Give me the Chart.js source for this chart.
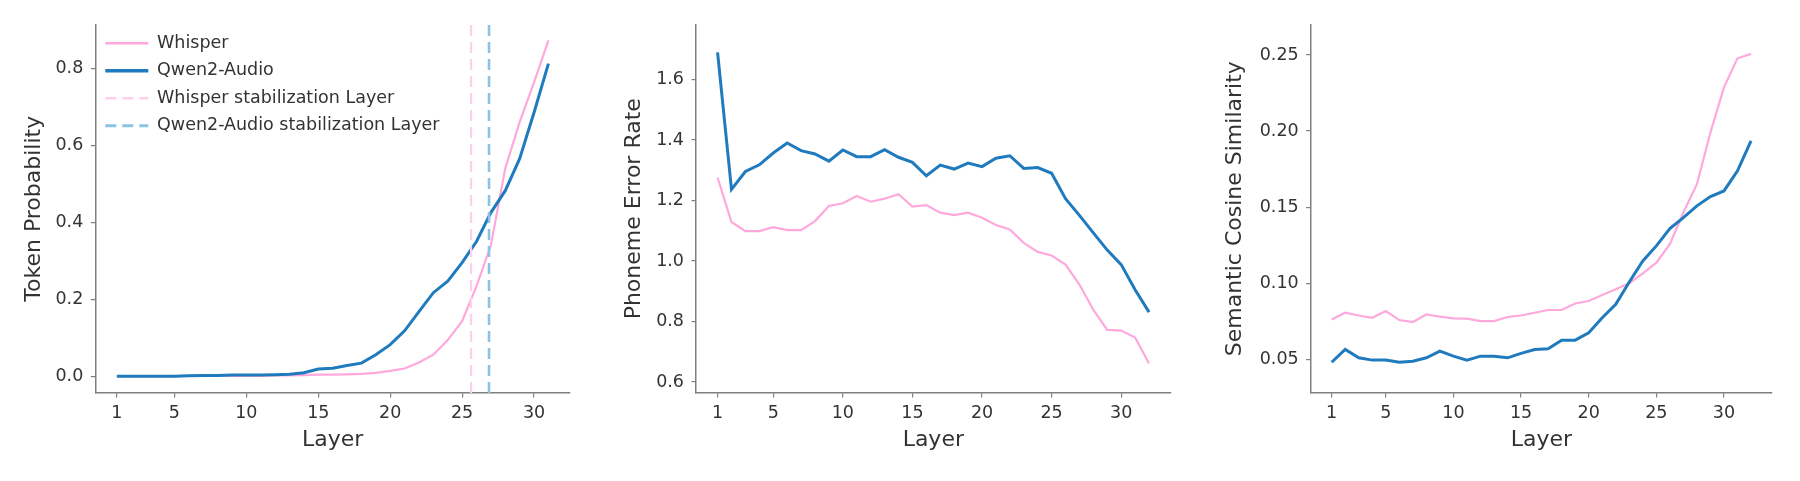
<!DOCTYPE html>
<html>
<head>
<meta charset="utf-8">
<title>Layer-wise token probability, PER and similarity</title>
<script src="https://cdn.jsdelivr.net/npm/chart.js@4.4.1/dist/chart.umd.min.js"></script>
<style>
    html, body { margin: 0; padding: 0; background: #ffffff; }
    #wrap { position: relative; width: 1800px; height: 481px; }
    canvas { position: absolute; top: 0; width: 600px; height: 481px; }
</style>
</head>
<body>
<div id="wrap">
    <canvas id="probChart" width="600" height="481" style="left:0px"></canvas>
    <canvas id="perChart" width="600" height="481" style="left:600px"></canvas>
    <canvas id="simChart" width="600" height="481" style="left:1200px"></canvas>
</div>
<script>
// Layers (panel 1 stops at 31, the others at 32)
const layers31 = [1, 2, 3, 4, 5, 6, 7, 8, 9, 10, 11, 12, 13, 14, 15, 16, 17, 18, 19, 20, 21, 22, 23, 24, 25, 26, 27, 28, 29, 30, 31];
const layers32 = [1, 2, 3, 4, 5, 6, 7, 8, 9, 10, 11, 12, 13, 14, 15, 16, 17, 18, 19, 20, 21, 22, 23, 24, 25, 26, 27, 28, 29, 30, 31, 32];
const layerTicks = [1, 5, 10, 15, 20, 25, 30];

// Token probability
const whisperProb = [0.000, 0.000, 0.000, 0.000, 0.000, 0.001, 0.001, 0.001, 0.001, 0.001, 0.001, 0.002, 0.002, 0.003, 0.004, 0.004,
    0.005, 0.006, 0.009, 0.014, 0.020, 0.036, 0.056, 0.094, 0.143, 0.234, 0.340, 0.540, 0.660, 0.763, 0.872];
const qwenProb = [0.000, 0.000, 0.000, 0.000, 0.000, 0.001, 0.002, 0.002, 0.003, 0.003, 0.003, 0.004, 0.005, 0.009, 0.019, 0.021,
    0.028, 0.034, 0.056, 0.082, 0.118, 0.168, 0.217, 0.247, 0.295, 0.350, 0.425, 0.482, 0.565, 0.685, 0.812];
const stabLayers = [25.62, 26.87]; // Whisper, Qwen2-Audio
const probTicks = [0.0, 0.2, 0.4, 0.6, 0.8];

// Phoneme error rate
const whisperPer = [1.276, 1.129, 1.099, 1.099, 1.112, 1.102, 1.102, 1.132, 1.182, 1.191, 1.215, 1.196, 1.206, 1.221, 1.180, 1.185,
    1.160, 1.152, 1.160, 1.143, 1.119, 1.104, 1.060, 1.030, 1.018, 0.988, 0.922, 0.838, 0.772, 0.770, 0.747, 0.661];
const qwenPer = [1.690, 1.237, 1.296, 1.318, 1.357, 1.390, 1.365, 1.354, 1.330, 1.367, 1.345, 1.345, 1.368, 1.343, 1.326, 1.282,
    1.317, 1.304, 1.324, 1.312, 1.340, 1.348, 1.306, 1.309, 1.290, 1.206, 1.151, 1.093, 1.036, 0.988, 0.905, 0.831];
const perTicks = [0.6, 0.8, 1.0, 1.2, 1.4, 1.6];

// Semantic cosine similarity
const whisperSim = [0.0763, 0.0807, 0.0789, 0.0774, 0.0818, 0.0759, 0.0746, 0.0796, 0.0781, 0.0770, 0.0768, 0.0752, 0.0752, 0.0779, 0.0789, 0.0807,
    0.0825, 0.0825, 0.0868, 0.0884, 0.0923, 0.0961, 0.1000, 0.1066, 0.1136, 0.1257, 0.1465, 0.1651, 0.1991, 0.2287, 0.2478, 0.2507];
const qwenSim = [0.0482, 0.0566, 0.0511, 0.0496, 0.0496, 0.0482, 0.0489, 0.0511, 0.0555, 0.0522, 0.0496, 0.0522, 0.0522, 0.0511, 0.0540, 0.0566,
    0.0570, 0.0627, 0.0627, 0.0675, 0.0774, 0.0862, 0.1009, 0.1147, 0.1246, 0.1360, 0.1432, 0.1509, 0.1570, 0.1607, 0.1739, 0.1936];
const simTicks = [0.05, 0.10, 0.15, 0.20, 0.25];

const pink = '#ffa8dc';
const blue = '#1f7bbd';
const pinkLight = '#ffd0eb';
const blueLight = '#8cc2e3';
const textColor = '#333333';
const axisColor = '#7f7f7f';

Chart.defaults.font.family = "'DejaVu Sans', sans-serif";

// a vertical legend in the chart area starts at the canvas top, push it down into the plot
const legendInPlot = {
    id: 'legendInPlot',
    afterLayout: function(chart) {
        if (chart.legend && chart.legend.options.display) {
            chart.legend.top = chart.chartArea.top;
            chart.legend.bottom = chart.chartArea.bottom;
        }
    }
};

function points(xs, ys) {
    return xs.map(function(x, i) { return { x: x, y: ys[i] }; });
}

// legend samples take the line style of the dataset, not of its (hidden) points
function legendLabels(chart) {
    const items = Chart.defaults.plugins.legend.labels.generateLabels(chart);
    items.forEach(function(item) {
        const ds = chart.data.datasets[item.datasetIndex];
        item.strokeStyle = ds.borderColor;
        item.lineWidth = ds.borderWidth + 0.4;
        item.lineDash = ds.borderDash || [];
    });
    return items;
}

function buildChart(id, opts) {
    const ctx = document.getElementById(id).getContext('2d');
    const datasets = [{
        label: 'Whisper',
        data: points(opts.layers, opts.whisper),
        borderColor: pink,
        borderWidth: 2.2,
        order: 3
    }, {
        label: 'Qwen2-Audio',
        data: points(opts.layers, opts.qwen),
        borderColor: blue,
        borderWidth: 3,
        order: 2
    }];
    if (opts.stab) {
        datasets.push({
            label: 'Whisper stabilization Layer',
            data: [{ x: opts.stab[0], y: opts.yMin }, { x: opts.stab[0], y: opts.yMax }],
            borderColor: pinkLight,
            borderWidth: 2.2,
            borderDash: [11, 6],
            order: 1
        }, {
            label: 'Qwen2-Audio stabilization Layer',
            data: [{ x: opts.stab[1], y: opts.yMin }, { x: opts.stab[1], y: opts.yMax }],
            borderColor: blueLight,
            borderWidth: 2.6,
            borderDash: [11, 6],
            order: 0
        });
    }

    return new Chart(ctx, {
        type: 'line',
        data: { datasets: datasets },
        plugins: [legendInPlot],
        options: {
            responsive: false,
            animation: false,
            events: [],
            layout: {
                padding: { left: 0, top: 24.5, right: opts.padRight, bottom: 0 }
            },
            elements: {
                point: { radius: 0 },
                line: { tension: 0, fill: false }
            },
            scales: {
                x: {
                    type: 'linear',
                    min: opts.xMin,
                    max: opts.xMax,
                    afterFit: function(scale) { scale.height = 88; },
                    afterBuildTicks: function(scale) {
                        scale.ticks = layerTicks.map(function(v) { return { value: v }; });
                    },
                    ticks: {
                        color: textColor,
                        padding: 5,
                        autoSkip: false,
                        maxRotation: 0,
                        font: { size: 17.5 }
                    },
                    grid: {
                        drawOnChartArea: false,
                        drawTicks: true,
                        tickLength: 4.5,
                        color: axisColor,
                        lineWidth: 1.2
                    },
                    border: { display: true, color: axisColor, width: 1.5 },
                    title: {
                        display: true,
                        text: 'Layer',
                        color: textColor,
                        font: { size: 22 },
                        padding: { top: 0, bottom: 28 }
                    }
                },
                y: {
                    min: opts.yMin,
                    max: opts.yMax,
                    afterFit: function(scale) { scale.width = opts.yWidth; },
                    afterBuildTicks: function(scale) {
                        scale.ticks = opts.yTicks.map(function(v) { return { value: v }; });
                    },
                    ticks: {
                        color: textColor,
                        padding: 7.5,
                        font: { size: 17.5 },
                        callback: function(value) {
                            return Number(value).toFixed(opts.decimals);
                        }
                    },
                    grid: {
                        drawOnChartArea: false,
                        drawTicks: true,
                        tickLength: 4.5,
                        color: axisColor,
                        lineWidth: 1.2
                    },
                    border: { display: true, color: axisColor, width: 1.5 },
                    title: {
                        display: true,
                        text: opts.yTitle,
                        color: textColor,
                        font: { size: 22 },
                        padding: { top: opts.yTitlePad, bottom: 0 }
                    }
                }
            },
            plugins: {
                tooltip: { enabled: false },
                legend: {
                    display: !!opts.stab,
                    position: 'chartArea',
                    align: 'start',
                    labels: {
                        usePointStyle: true,
                        pointStyle: 'line',
                        pointStyleWidth: 43,
                        padding: 10,
                        color: textColor,
                        font: { size: 17.5 },
                        generateLabels: legendLabels,
                        sort: function(a, b) { return a.datasetIndex - b.datasetIndex; }
                    }
                }
            }
        }
    });
}

window.addEventListener('load', function() {
    // Token Probability
    buildChart('probChart', {
        layers: layers31,
        whisper: whisperProb,
        qwen: qwenProb,
        stab: stabLayers,
        xMin: -0.5, xMax: 32.5,
        yMin: -0.0435, yMax: 0.9135,
        yTicks: probTicks, decimals: 1,
        yTitle: 'Token Probability',
        yWidth: 95.3, padRight: 30, yTitlePad: 21
    });

    // Phoneme Error Rate
    buildChart('perChart', {
        layers: layers32,
        whisper: whisperPer,
        qwen: qwenPer,
        xMin: -0.55, xMax: 33.55,
        yMin: 0.5635, yMax: 1.782,
        yTicks: perTicks, decimals: 1,
        yTitle: 'Phoneme Error Rate',
        yWidth: 96, padRight: 29.4, yTitlePad: 21
    });

    // Semantic Cosine Similarity
    buildChart('simChart', {
        layers: layers32,
        whisper: whisperSim,
        qwen: qwenSim,
        xMin: -0.55, xMax: 33.55,
        yMin: 0.028, yMax: 0.270,
        yTicks: simTicks, decimals: 2,
        yTitle: 'Semantic Cosine Similarity',
        yWidth: 110.7, padRight: 28, yTitlePad: 22
    });
});
</script>
</body>
</html>
